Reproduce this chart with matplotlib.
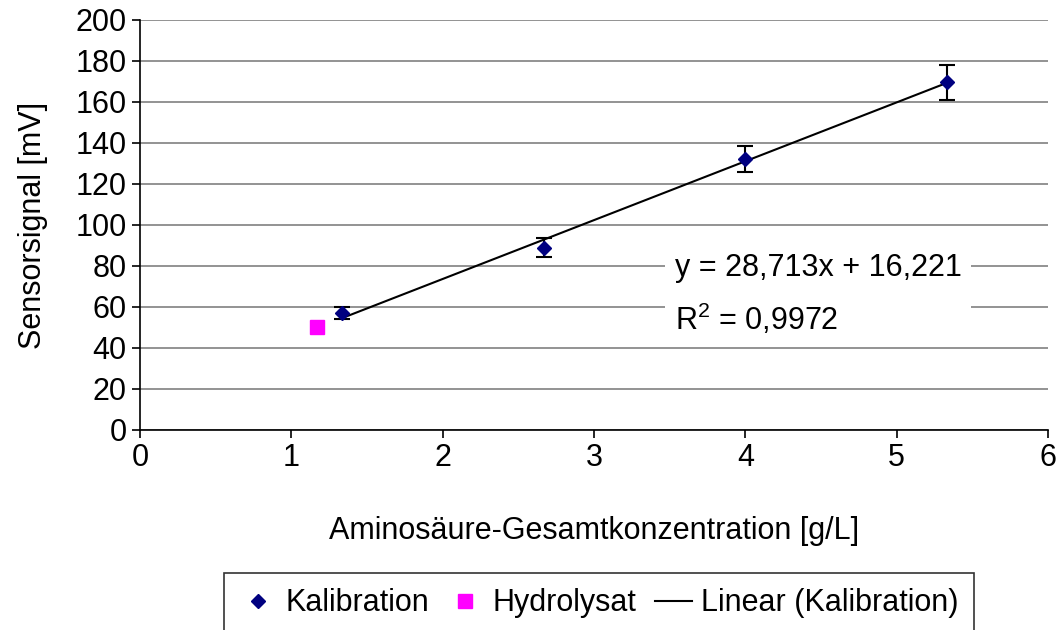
import numpy as np
import matplotlib
matplotlib.use('Agg')
import matplotlib.pyplot as plt
from matplotlib.lines import Line2D

# values
kal_x = [1.333, 2.667, 4.0, 5.333]
kal_y = [57.0, 89.0, 132.0, 169.5]
kal_err = [3.0, 4.8, 6.3, 8.3]
hyd_x = [1.17]
hyd_y = [50.0]
slope = 28.713
intercept = 16.221

plt.rcParams['font.family'] = ['Liberation Sans', 'DejaVu Sans']
plt.rcParams['font.size'] = 22
plt.rcParams['mathtext.fontset'] = 'custom'
plt.rcParams['mathtext.rm'] = 'Liberation Sans'

fig = plt.figure(figsize=(10.58, 6.3), dpi=100)
ax = fig.add_axes([0.1323, 0.3175, 0.8582, 0.6508])

ax.set_xlim(0, 6)
ax.set_ylim(0, 200)
ax.set_xticks(np.arange(0, 7, 1))
ax.set_yticks(np.arange(0, 220, 20))
ax.yaxis.grid(True, color='#808080', linewidth=1.2)
ax.set_axisbelow(True)
for s in ['top', 'right']:
    ax.spines[s].set_visible(False)
ax.spines['left'].set_linewidth(1.2)
ax.spines['bottom'].set_linewidth(1.2)
ax.tick_params(direction='out', length=6, width=1.2, labelsize=22)

# trend line
tx = np.array([kal_x[0], kal_x[-1]])
ax.plot(tx, slope * tx + intercept, color='black', linewidth=1.5, zorder=2)

ax.errorbar(kal_x, kal_y, yerr=kal_err, fmt='D', color='#000080', markersize=7,
            ecolor='black', elinewidth=1.5, capsize=5.5, capthick=1.5, zorder=3)
ax.plot(hyd_x, hyd_y, 's', color='#FF00FF', markersize=10, zorder=3)

ax.text(0.589, 0.33, 'y = 28,713x + 16,221\nR$^2$ = 0,9972', transform=ax.transAxes,
        fontsize=22, va='center', ha='left', linespacing=1.65,
        bbox=dict(facecolor='white', edgecolor='none', pad=7), zorder=4)

ax.set_xlabel('Aminosäure-Gesamtkonzentration [g/L]', fontsize=22, labelpad=31)
ax.set_ylabel('Sensorsignal [mV]', fontsize=22, labelpad=20)

handles = [Line2D([], [], marker='D', color='#000080', linestyle='none', markersize=7),
           Line2D([], [], marker='s', color='#FF00FF', linestyle='none', markersize=10),
           Line2D([], [], color='black', linewidth=1.5)]
labels = ['Kalibration', 'Hydrolysat', 'Linear (Kalibration)']
leg = fig.legend(handles, labels, ncol=3,
                 loc='upper center', bbox_to_anchor=(0.566, 0.0905),
                 frameon=True, fancybox=False, edgecolor='black', fontsize=22,
                 handlelength=1.2, handletextpad=0.3, columnspacing=0.6,
                 borderpad=0.5, borderaxespad=0)
leg.get_frame().set_linewidth(1.2)

fig.savefig('out.png', dpi=100)
